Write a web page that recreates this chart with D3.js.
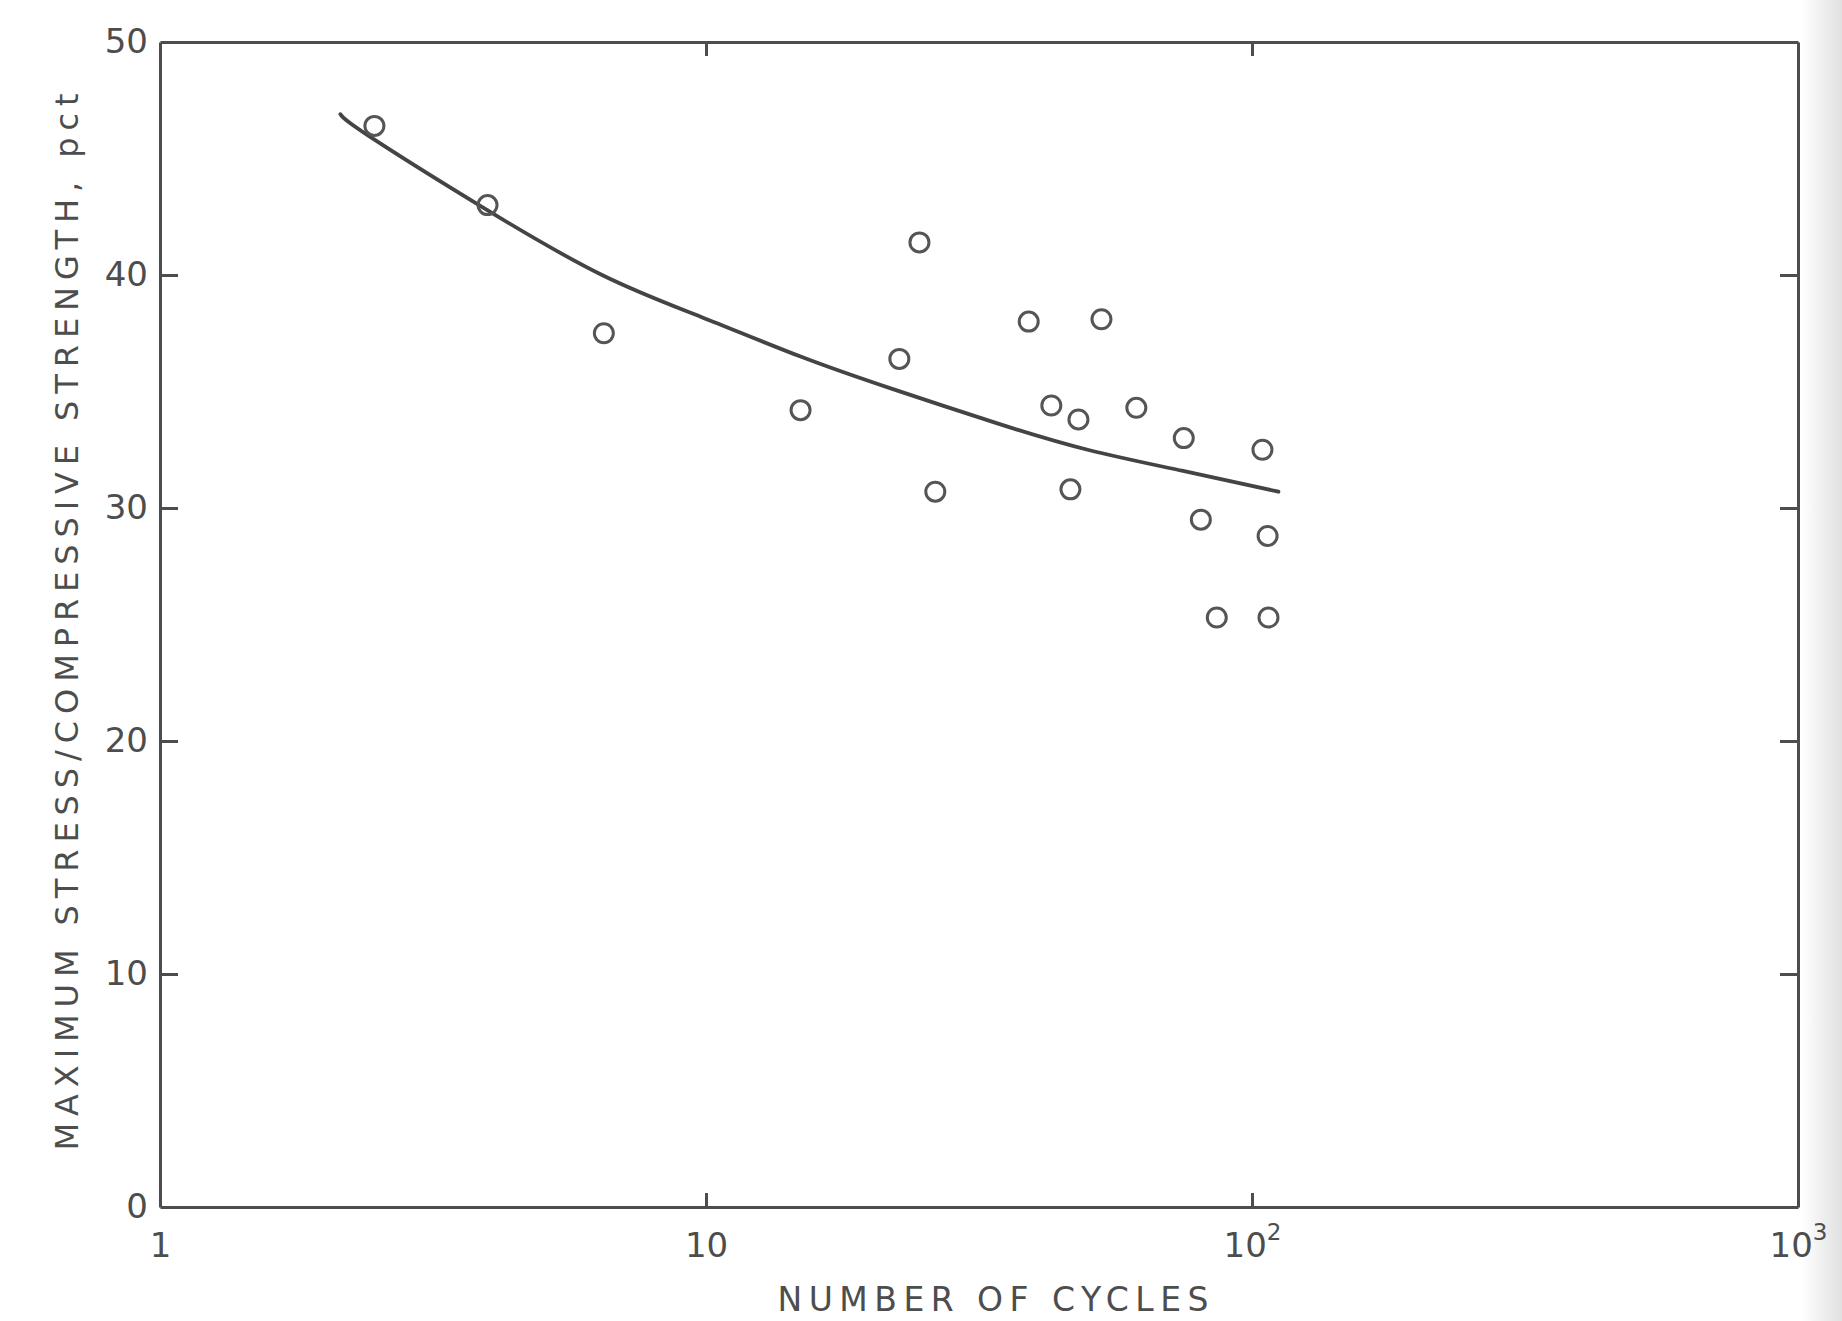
<!DOCTYPE html>
<html>
<head>
<meta charset="utf-8">
<script src="https://cdn.jsdelivr.net/npm/d3@7"></script>
<style>
  html, body { margin: 0; padding: 0; background: #fff; }
  svg { display: block; }
</style>
</head>
<body>
<div id="chart"></div>
<script>
// fatigue tests: cycles to failure vs max stress / compressive strength (pct)
const cycles = [2.47, 3.98, 6.5, 14.9, 22.6, 24.6, 26.3, 39.0, 42.9, 46.5, 48.1, 53.0, 61.4, 75.0, 80.6, 86.2, 104.5, 106.8, 107.2]
const stressPct = [46.4, 43.0, 37.5, 34.2, 36.4, 41.4, 30.7, 38.0, 34.4, 30.8, 33.8, 38.1, 34.3, 33.0, 29.5, 25.3, 32.5, 28.8, 25.3]

// fitted curve
const fitCycles = [2.14, 2.4, 3.9, 6.45, 9.8, 14.9, 22, 34.5, 50, 74.4, 111.8]
const fitStress = [46.9, 46.0, 42.9, 40.0, 38.2, 36.5, 35.1, 33.6, 32.5, 31.6, 30.7]

const xTicks = [1, 10, 100, 1000]
const xTickBase = ["1", "10", "10", "10"]
const xTickExp = ["", "", "2", "3"]
const yTicks = [0, 10, 20, 30, 40, 50]
const yTickLabels = ["0", "10", "20", "30", "40", "50"]

const width = 1842
const height = 1321
const margin = { top: 42, right: 44, bottom: 114, left: 160 }
const ink = "#4d4d4d"
const font = "'DejaVu Sans', sans-serif"

const x = d3.scaleLog().domain([1, 1000]).range([margin.left, width - margin.right])
const y = d3.scaleLinear().domain([0, 50]).range([height - margin.bottom, margin.top])

const svg = d3.select("#chart")
  .append("svg")
  .attr("width", width)
  .attr("height", height)

// scanner shading on the right edge
const grad = svg.append("defs").append("linearGradient").attr("id", "edge")
grad.append("stop").attr("offset", "0%").attr("stop-color", "#ffffff")
grad.append("stop").attr("offset", "100%").attr("stop-color", "#e0e0e0")
svg.append("rect")
  .attr("x", 1802).attr("y", 0)
  .attr("width", 40).attr("height", height)
  .attr("fill", "url(#edge)")

const styleAxis = g => {
  g.select(".domain").attr("stroke", ink).attr("stroke-width", 3)
  g.selectAll(".tick line").attr("stroke", ink).attr("stroke-width", 3)
  g.selectAll(".tick text").remove()
}

// frame + inward ticks on all four sides
svg.append("g")
  .attr("transform", `translate(0,${y(0)})`)
  .call(d3.axisBottom(x).tickValues([10, 100]).tickSize(-14).tickSizeOuter(0))
  .call(styleAxis)

svg.append("g")
  .attr("transform", `translate(0,${y(50)})`)
  .call(d3.axisTop(x).tickValues([10, 100]).tickSize(-14).tickSizeOuter(0))
  .call(styleAxis)

svg.append("g")
  .attr("transform", `translate(${x(1)},0)`)
  .call(d3.axisLeft(y).tickValues([10, 20, 30, 40]).tickSize(-18).tickSizeOuter(0))
  .call(styleAxis)

svg.append("g")
  .attr("transform", `translate(${x(1000)},0)`)
  .call(d3.axisRight(y).tickValues([10, 20, 30, 40]).tickSize(-18).tickSizeOuter(0))
  .call(styleAxis)

// x tick labels, powers of ten with a raised exponent
svg.append("g")
  .attr("transform", `translate(0,${y(0)})`)
  .call(d3.axisBottom(x).tickValues(xTicks).tickSize(0).tickPadding(26)
    .tickFormat((d, i) => xTickBase[i]))
  .call(g => g.select(".domain").remove())
  .call(g => g.selectAll(".tick text")
    .attr("font-family", font).attr("font-size", 34).attr("fill", ink)
    .each(function(d, i) {
      if (!xTickExp[i]) return
      d3.select(this).append("tspan")
        .attr("font-size", 23)
        .attr("dy", "-0.75em")
        .text(xTickExp[i])
    }))

svg.append("g")
  .attr("transform", `translate(${x(1)},0)`)
  .call(d3.axisLeft(y).tickValues(yTicks).tickSize(0).tickPadding(12)
    .tickFormat((d, i) => yTickLabels[i]))
  .call(g => g.select(".domain").remove())
  .call(g => g.selectAll(".tick text")
    .attr("font-family", font).attr("font-size", 34).attr("fill", ink))

// axis titles
svg.append("text")
  .attr("x", 993)
  .attr("y", 1311)
  .attr("text-anchor", "middle")
  .attr("font-family", font)
  .attr("font-size", 33)
  .attr("fill", ink)
  .attr("textLength", 431)
  .attr("lengthAdjust", "spacing")
  .text("NUMBER OF CYCLES")

svg.append("text")
  .attr("transform", "translate(78,622) rotate(-90)")
  .attr("text-anchor", "middle")
  .attr("font-family", font)
  .attr("font-size", 32)
  .attr("fill", ink)
  .attr("textLength", 1057)
  .attr("lengthAdjust", "spacing")
  .text("MAXIMUM STRESS/COMPRESSIVE STRENGTH, pct")

// fitted curve
const line = d3.line()
  .x(d => x(d[0]))
  .y(d => y(d[1]))
  .curve(d3.curveNatural)

svg.append("path")
  .datum(d3.zip(fitCycles, fitStress))
  .attr("d", line)
  .attr("fill", "none")
  .attr("stroke", "#444")
  .attr("stroke-width", 3.8)
  .attr("stroke-linecap", "round")

// test points
svg.append("g")
  .selectAll("circle")
  .data(d3.zip(cycles, stressPct))
  .join("circle")
  .attr("cx", d => x(d[0]))
  .attr("cy", d => y(d[1]))
  .attr("r", 9.5)
  .attr("fill", "none")
  .attr("stroke", "#555")
  .attr("stroke-width", 3)
</script>
</body>
</html>
